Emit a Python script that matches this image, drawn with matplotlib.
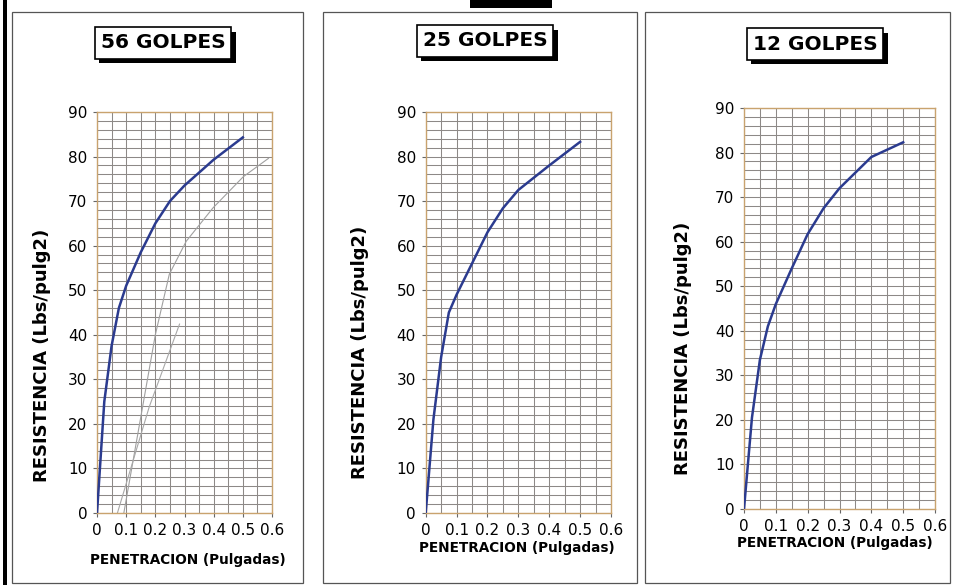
import matplotlib
matplotlib.use("Agg")
import matplotlib.pyplot as plt
from matplotlib import patheffects
from matplotlib.patches import Rectangle
from matplotlib.ticker import MultipleLocator
import numpy as np

# ---- data ----
penetracion = [0, 0.025, 0.05, 0.075, 0.1, 0.15, 0.2, 0.25, 0.3, 0.4, 0.5]
resist_56 = [0, 25, 37.5, 46, 51, 58.5, 65, 70, 73.5, 79.3, 84.3]
resist_25 = [0, 21, 35, 45, 49, 56, 63, 68.4, 72.5, 78, 83.3]
resist_12 = [0, 20.5, 33.5, 41, 46, 54, 61.7, 67.5, 72, 79, 82.3]

# hand-drawn pencil marks on the 56-golpes chart
pencil1_x = [0.092, 0.2, 0.248, 0.306, 0.398, 0.502, 0.588]
pencil1_y = [0, 40, 53.6, 61, 68.5, 75.5, 79.6]
pencil2_x = [0.07, 0.179, 0.283]
pencil2_y = [0, 23.8, 42.4]

titles = ["56 GOLPES", "25 GOLPES", "12 GOLPES"]
series = [resist_56, resist_25, resist_12]
xlabel = "PENETRACION (Pulgadas)"
ylabel = "RESISTENCIA (Lbs/pulg2)"
xticks = [0, 0.1, 0.2, 0.3, 0.4, 0.5, 0.6]
xticklabels = ["0", "0.1", "0.2", "0.3", "0.4", "0.5", "0.6"]
yticks = [0, 10, 20, 30, 40, 50, 60, 70, 80, 90]

W, H = 955, 585
fig = plt.figure(figsize=(W / 100, H / 100), dpi=100)
fig.patch.set_facecolor("white")

def fx(px):
    return px / W

def fy(py):
    return 1 - py / H

# panel frames
for (x0, x1) in [(12, 303), (323, 637), (645, 950)]:
    fig.add_artist(Rectangle((fx(x0), fy(583)), fx(x1) - fx(x0), fy(12) - fy(583),
                             transform=fig.transFigure, fill=False, ec="#555555", lw=0.9))
# thick left edge and top fragment
fig.add_artist(Rectangle((fx(3), 0), fx(4), 1, transform=fig.transFigure,
                         fc="black", ec="none"))
fig.add_artist(Rectangle((fx(470), fy(8)), fx(82), fy(0) - fy(8), transform=fig.transFigure,
                         fc="black", ec="none"))

# axes geometry (pixels): left, right, top, bottom
geom = [(97, 272, 112, 513), (425.7, 611, 112, 513), (744, 935, 108, 509)]
title_pos = [(163, 43), (485, 41), (815, 44)]
ylab_pos = [(42, 355), (360, 352), (683, 348)]
xlab_pos = [(188, 560), (517, 548), (835, 543)]

for i in range(3):
    l, r, t, b = geom[i]
    ax = fig.add_axes([fx(l), fy(b), fx(r) - fx(l), fy(t) - fy(b)])
    ax.set_xlim(0, 0.6)
    ax.set_ylim(0, 90)
    ax.xaxis.set_major_locator(MultipleLocator(0.1))
    ax.xaxis.set_minor_locator(MultipleLocator(0.05))
    ax.yaxis.set_major_locator(MultipleLocator(10))
    ax.yaxis.set_minor_locator(MultipleLocator(2))
    ax.set_xticks(xticks)
    ax.set_xticklabels(xticklabels)
    ax.set_yticks(yticks)
    ax.grid(which="both", color="#8d8987", lw=0.75)
    ax.set_axisbelow(True)
    for s in ax.spines.values():
        s.set_color("#c9a36e")
        s.set_linewidth(1.0)
    ax.tick_params(which="major", length=3, width=0.8, color="#666666",
                   labelsize=11, pad=4)
    ax.tick_params(which="minor", length=0)
    if i == 0:
        ax.plot(pencil1_x, pencil1_y, color="#a0a0a0", lw=0.8, zorder=2)
        ax.plot(pencil2_x, pencil2_y, color="#a8a8a8", lw=0.8, zorder=2)
    ax.plot(penetracion, series[i], color="#2b3b8f", lw=1.8, zorder=3)

    tx, ty = title_pos[i]
    txt = fig.text(fx(tx), fy(ty), titles[i], ha="center", va="center",
                   fontsize=14.5, fontweight="bold",
                   bbox=dict(boxstyle="square,pad=0.3", fc="white", ec="black", lw=1.2))
    txt.get_bbox_patch().set_path_effects([
        patheffects.SimplePatchShadow(offset=(3, -3), shadow_rgbFace="black", alpha=1.0),
        patheffects.Normal()])

    yx, yy = ylab_pos[i]
    fig.text(fx(yx), fy(yy), ylabel, rotation=90, ha="center", va="center",
             fontsize=13, fontweight="bold")
    xx, xy = xlab_pos[i]
    fig.text(fx(xx), fy(xy), xlabel, ha="center", va="center",
             fontsize=9.8, fontweight="bold")

fig.savefig("out.png", dpi=100, facecolor="white")
